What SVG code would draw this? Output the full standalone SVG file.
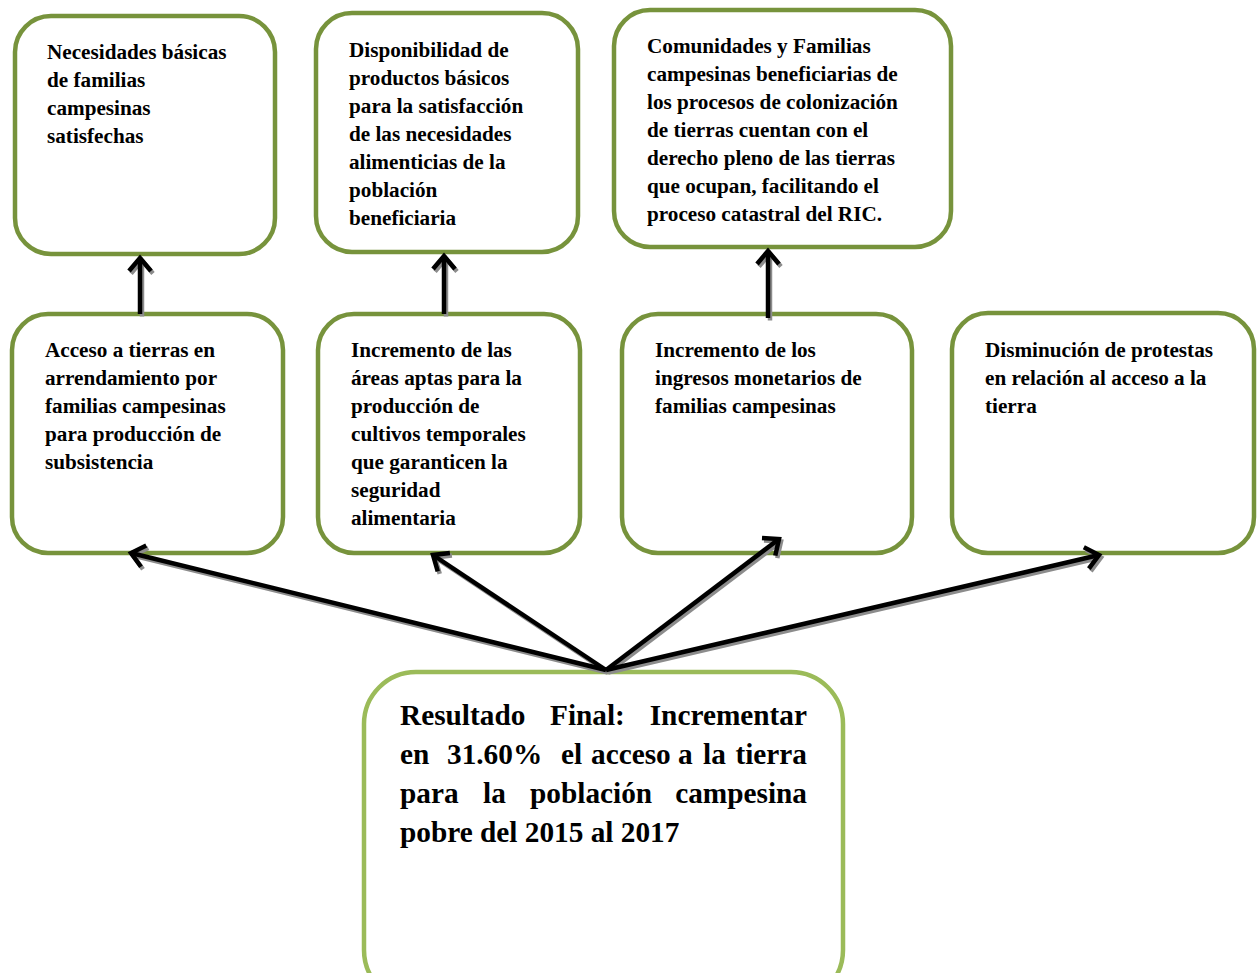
<svg xmlns="http://www.w3.org/2000/svg" width="1257" height="973" viewBox="0 0 1257 973">
<style>
.box{fill:#fff;stroke:#77933C;stroke-width:4.5}
.main{fill:#fff;stroke:#9BBB59;stroke-width:4.5}
.t{font-family:"Liberation Serif","Times New Roman",serif;font-weight:bold;font-size:21.2px;fill:#000}
.tb{font-family:"Liberation Serif","Times New Roman",serif;font-weight:bold;font-size:29.3px;fill:#000}
.e{text-anchor:end}
.ln{stroke:#000;stroke-width:4.5;fill:none}
.sh{stroke:#8c8c8c;stroke-width:4.5;fill:none}
</style>
<defs>
<marker id="ah" markerUnits="userSpaceOnUse" orient="auto" markerWidth="30" markerHeight="30" viewBox="-15 -15 30 30" refX="0" refY="0" overflow="visible">
<path d="M-13,-11 L0,0 L-13,11" fill="none" stroke="#000" stroke-width="4.5" stroke-linejoin="miter"/>
</marker>
<marker id="ahs" markerUnits="userSpaceOnUse" orient="auto" markerWidth="30" markerHeight="30" viewBox="-15 -15 30 30" refX="0" refY="0" overflow="visible">
<path d="M-13,-11 L0,0 L-13,11" fill="none" stroke="#8c8c8c" stroke-width="4.5"/>
</marker>
</defs>
<rect width="1257" height="973" fill="#fff"/>

<g id="node-a1">
<rect class="box" x="15" y="16" width="260" height="238" rx="36"/>
<text class="t" x="47" y="59"><tspan x="47">Necesidades básicas</tspan><tspan x="47" dy="28">de familias</tspan><tspan x="47" dy="28">campesinas</tspan><tspan x="47" dy="28">satisfechas</tspan></text>
</g>
<g id="node-a2">
<rect class="box" x="316" y="13" width="262" height="239" rx="36"/>
<text class="t" x="349" y="57"><tspan x="349">Disponibilidad de</tspan><tspan x="349" dy="28">productos básicos</tspan><tspan x="349" dy="28">para la satisfacción</tspan><tspan x="349" dy="28">de las necesidades</tspan><tspan x="349" dy="28">alimenticias de la</tspan><tspan x="349" dy="28">población</tspan><tspan x="349" dy="28">beneficiaria</tspan></text>
</g>
<g id="node-a3">
<rect class="box" x="614" y="10" width="337" height="237" rx="36"/>
<text class="t" x="647" y="53"><tspan x="647">Comunidades y Familias</tspan><tspan x="647" dy="28">campesinas beneficiarias de</tspan><tspan x="647" dy="28">los procesos de colonización</tspan><tspan x="647" dy="28">de tierras cuentan con el</tspan><tspan x="647" dy="28">derecho pleno de las tierras</tspan><tspan x="647" dy="28">que ocupan, facilitando el</tspan><tspan x="647" dy="28">proceso catastral del RIC.</tspan></text>
</g>

<g id="node-b1">
<rect class="box" x="12" y="314" width="271" height="239" rx="36"/>
<text class="t" x="45" y="357"><tspan x="45">Acceso a tierras en</tspan><tspan x="45" dy="28">arrendamiento por</tspan><tspan x="45" dy="28">familias campesinas</tspan><tspan x="45" dy="28">para producción de</tspan><tspan x="45" dy="28">subsistencia</tspan></text>
</g>
<g id="node-b2">
<rect class="box" x="318" y="314" width="262" height="239" rx="36"/>
<text class="t" x="351" y="357"><tspan x="351">Incremento de las</tspan><tspan x="351" dy="28">áreas aptas para la</tspan><tspan x="351" dy="28">producción de</tspan><tspan x="351" dy="28">cultivos temporales</tspan><tspan x="351" dy="28">que garanticen la</tspan><tspan x="351" dy="28">seguridad</tspan><tspan x="351" dy="28">alimentaria</tspan></text>
</g>
<g id="node-b3">
<rect class="box" x="622" y="314" width="290" height="239" rx="36"/>
<text class="t" x="655" y="357"><tspan x="655">Incremento de los</tspan><tspan x="655" dy="28">ingresos monetarios de</tspan><tspan x="655" dy="28">familias campesinas</tspan></text>
</g>
<g id="node-b4">
<rect class="box" x="952" y="313" width="302" height="240" rx="36"/>
<text class="t" x="985" y="357"><tspan x="985">Disminución de protestas</tspan><tspan x="985" dy="28">en relación al acceso a la</tspan><tspan x="985" dy="28">tierra</tspan></text>
</g>

<g id="node-main">
<rect class="main" x="364" y="672" width="479" height="330" rx="52"/>
<text class="tb" y="725"><tspan x="400">Resultado</tspan><tspan x="550">Final:</tspan></text>
<text class="tb e" x="807" y="725">Incrementar</text>
<text class="tb" y="764"><tspan x="400">en</tspan><tspan x="447">31.60%</tspan><tspan x="561">el</tspan><tspan x="591">acceso</tspan><tspan x="678">a</tspan><tspan x="703">la</tspan></text>
<text class="tb e" x="807" y="764">tierra</text>
<text class="tb" y="803"><tspan x="400">para</tspan><tspan x="483">la</tspan><tspan x="530">población</tspan></text>
<text class="tb e" x="807" y="803">campesina</text>
<text class="tb" x="400" y="842">pobre del 2015 al 2017</text>
</g>

<g id="connectors">
<g transform="translate(2,2.5)">
<line class="sh" x1="140" y1="314" x2="140" y2="258" marker-end="url(#ahs)"/>
<line class="sh" x1="444" y1="314" x2="444" y2="256" marker-end="url(#ahs)"/>
<line class="sh" x1="768" y1="318" x2="768" y2="251" marker-end="url(#ahs)"/>
<line class="sh" x1="606" y1="670" x2="131" y2="553" marker-end="url(#ahs)"/>
<line class="sh" x1="606" y1="670" x2="433" y2="555" marker-end="url(#ahs)"/>
<line class="sh" x1="606" y1="670" x2="779" y2="539" marker-end="url(#ahs)"/>
<line class="sh" x1="606" y1="670" x2="1099" y2="555" marker-end="url(#ahs)"/>
</g>
<line class="ln" x1="140" y1="314" x2="140" y2="258" marker-end="url(#ah)"/>
<line class="ln" x1="444" y1="314" x2="444" y2="256" marker-end="url(#ah)"/>
<line class="ln" x1="768" y1="318" x2="768" y2="251" marker-end="url(#ah)"/>
<line class="ln" x1="606" y1="670" x2="131" y2="553" marker-end="url(#ah)"/>
<line class="ln" x1="606" y1="670" x2="433" y2="555" marker-end="url(#ah)"/>
<line class="ln" x1="606" y1="670" x2="779" y2="539" marker-end="url(#ah)"/>
<line class="ln" x1="606" y1="670" x2="1099" y2="555" marker-end="url(#ah)"/>
</g>
</svg>
